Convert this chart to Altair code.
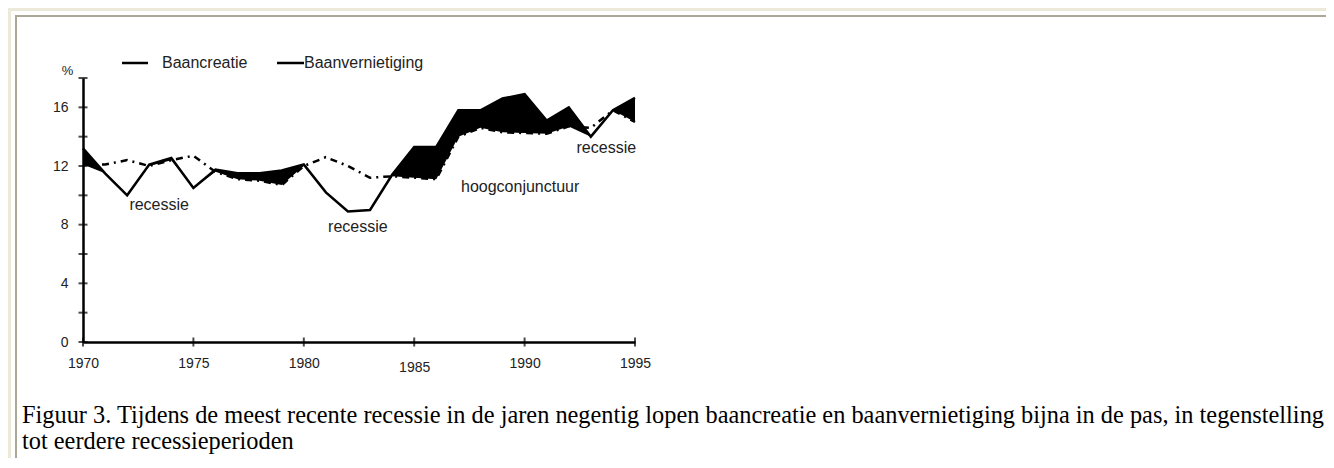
import altair as alt
import pandas as pd

# ---- data ----
years = list(range(1970, 1996))
baancreatie = [13.2, 11.5, 10.0, 12.1, 12.55, 10.5, 11.75, 11.5, 11.5, 11.7, 12.1, 10.2, 8.9,
               9.0, 11.4, 13.3, 13.3, 15.8, 15.8, 16.6, 16.9, 15.1, 16.0, 14.0, 15.8, 16.65]
baanvernietiging = [12.1, 12.1, 12.4, 12.0, 12.4, 12.7, 11.6, 11.1, 11.0, 10.7, 12.0, 12.6, 12.0,
                    11.2, 11.3, 11.2, 11.1, 14.0, 14.6, 14.3, 14.25, 14.2, 14.7, 14.6, 15.8, 15.0]

y_major_ticks = [0, 4, 8, 12, 16]
y_minor_ticks = [2, 6, 10, 14, 18]
x_ticks = [1970, 1975, 1980, 1985, 1990, 1995]

legend_labels = ["Baancreatie", "Baanvernietiging"]
annot_text = ["recessie", "recessie", "hoogconjunctuur", "recessie"]
annot_year = [1973.45, 1982.45, 1989.8, 1993.7]
annot_value = [9.35, 7.85, 10.6, 13.2]
caption_lines = [
    "Figuur 3. Tijdens de meest recente recessie in de jaren negentig lopen baancreatie en baanvernietiging bijna in de pas, in tegenstelling",
    "tot eerdere recessieperioden",
]

SANS = "Liberation Sans"
SERIF = "Liberation Serif"
W, H = 552, 264

df = pd.DataFrame({"jaar": years, "creatie": baancreatie, "vernietiging": baanvernietiging})
xscale = alt.Scale(domain=[1970, 1995], nice=False, zero=False)
yscale = alt.Scale(domain=[0, 18], nice=False, zero=False)

x_axis = alt.Axis(values=x_ticks, format="d", ticks=False, grid=False, title=None,
                  domainWidth=2.5, domainColor="black", labelFlush=False,
                  labelFont=SANS, labelFontSize=14, labelColor="#222",
                  labelPadding={"condition": {"test": "datum.value == 1985", "value": 18}, "value": 14})
y_axis = alt.Axis(values=y_major_ticks, ticks=False, grid=False, title="%",
                  titleAngle=0, titleX=-16, titleY=-8, titleAlign="center", titleBaseline="middle",
                  titleFont=SANS, titleFontSize=13, titleFontWeight="normal", titleColor="#222",
                  domainWidth=2.5, domainColor="black", labelFlush=False,
                  labelFont=SANS, labelFontSize=14, labelColor="#222", labelPadding=15)


def X(field):
    return alt.X(field, scale=xscale, axis=x_axis)


def Y(field):
    return alt.Y(field, scale=yscale, axis=y_axis)


base = alt.Chart(df)

line_d = base.mark_line(color="black", strokeWidth=2.5, strokeDash=[7, 5, 2, 5]).encode(
    x=X("jaar:Q"), y=Y("vernietiging:Q"))
area = base.transform_calculate(lo="min(datum.creatie, datum.vernietiging)").mark_area(
    color="black", opacity=1).encode(x=X("jaar:Q"), y=Y("creatie:Q"), y2="lo:Q")
line_c = base.mark_line(color="black", strokeWidth=2.5).encode(x=X("jaar:Q"), y=Y("creatie:Q"))

yt = alt.Chart(pd.DataFrame({"v": y_major_ticks + y_minor_ticks})).mark_tick(
    orient="horizontal", size=9, thickness=2, color="black").encode(
    y=Y("v:Q"), x=alt.value(0))
xt = alt.Chart(pd.DataFrame({"t": x_ticks})).mark_tick(
    orient="vertical", size=9, thickness=2, color="black").encode(
    x=X("t:Q"), y=alt.value(H))

annots = alt.Chart(pd.DataFrame({"txt": annot_text, "ax": annot_year, "ay": annot_value})).mark_text(
    font=SANS, fontSize=16, color="#222", align="center", baseline="middle").encode(
    x=X("ax:Q"), y=Y("ay:Q"), text="txt:N")

# legend
leg1_line = alt.Chart(pd.DataFrame({"l": [legend_labels[0]]})).mark_rule(color="black", strokeWidth=2.5).encode(
    x=alt.value(39), x2=alt.value(65), y=alt.value(-15))
leg1_text = alt.Chart(pd.DataFrame({"l": [legend_labels[0]]})).mark_text(
    font=SANS, fontSize=16, color="#222", align="left", baseline="middle").encode(
    x=alt.value(79), y=alt.value(-15), text="l:N")
leg2_line = alt.Chart(pd.DataFrame({"l": [legend_labels[1]]})).mark_rule(color="black", strokeWidth=2.5).encode(
    x=alt.value(194), x2=alt.value(221), y=alt.value(-15))
leg2_text = alt.Chart(pd.DataFrame({"l": [legend_labels[1]]})).mark_text(
    font=SANS, fontSize=16, color="#222", align="left", baseline="middle").encode(
    x=alt.value(221), y=alt.value(-15), text="l:N")

# frame
one = pd.DataFrame({"k": [0]})
frame_outer = alt.Chart(one).mark_rect(filled=False, stroke="#ECE9D8", strokeWidth=3).encode(
    x=alt.value(-73.5), x2=alt.value(1400), y=alt.value(-68.5), y2=alt.value(600))
frame_inner = alt.Chart(one).mark_rect(filled=False, stroke="#ACA899", strokeWidth=2).encode(
    x=alt.value(-67), x2=alt.value(1400), y=alt.value(-62), y2=alt.value(600))

# caption
cap1 = alt.Chart(pd.DataFrame({"c": [caption_lines[0]]})).mark_text(
    font=SERIF, fontSize=24.35, color="black", align="left", baseline="alphabetic").encode(
    x=alt.value(-61), y=alt.value(345), text="c:N")
cap2 = alt.Chart(pd.DataFrame({"c": [caption_lines[1]]})).mark_text(
    font=SERIF, fontSize=24.35, color="black", align="left", baseline="alphabetic").encode(
    x=alt.value(-61), y=alt.value(371), text="c:N")

chart = alt.layer(
    frame_outer, frame_inner, cap1, cap2,
    line_d, area, line_c, yt, xt, annots,
    leg1_line, leg1_text, leg2_line, leg2_text,
).properties(
    width=W, height=H, autosize="none",
    padding={"left": 75, "top": 70, "right": 1318 - 75 - W, "bottom": 450 - 70 - H},
).configure(background="white", view=alt.ViewConfig(strokeWidth=0, stroke="transparent"))

chart.save("out.html", embed_options={"renderer": "svg", "actions": False})
